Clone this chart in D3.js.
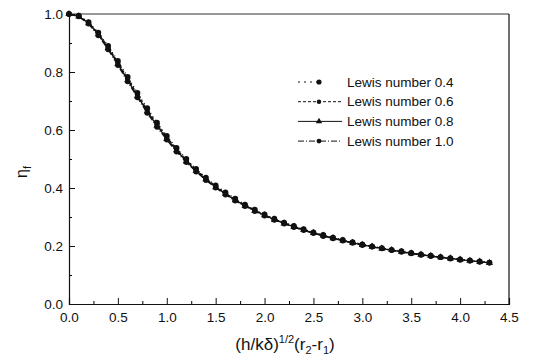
<!DOCTYPE html>
<html>
<head>
<meta charset="utf-8">
<script src="https://cdn.jsdelivr.net/npm/d3@7"></script>
<style>
  body { margin: 0; background: #fff; }
  text { font-family: "Liberation Sans", Arial, sans-serif; fill: #111; }
</style>
</head>
<body>
<div id="chart"></div>
<script>
// Data
var xValues = [0.0, 0.1, 0.2, 0.3, 0.4, 0.5, 0.6, 0.7, 0.8, 0.9, 1.0, 1.1, 1.2, 1.3, 1.4,
  1.5, 1.6, 1.7, 1.8, 1.9, 2.0, 2.1, 2.2, 2.3, 2.4, 2.5, 2.6, 2.7, 2.8, 2.9, 3.0,
  3.1, 3.2, 3.3, 3.4, 3.5, 3.6, 3.7, 3.8, 3.9, 4.0, 4.1, 4.2, 4.3];

var lewis04 = [1.000, 0.994, 0.972, 0.936, 0.890, 0.838, 0.783, 0.728, 0.675, 0.625,
  0.580, 0.538, 0.500, 0.466, 0.436, 0.409, 0.385, 0.363, 0.343, 0.325, 0.309,
  0.294, 0.281, 0.269, 0.258, 0.247, 0.238, 0.229, 0.221, 0.213, 0.206, 0.199,
  0.193, 0.187, 0.182, 0.176, 0.171, 0.167, 0.162, 0.158, 0.154, 0.150, 0.147, 0.143];

var lewis06 = [1.000, 0.993, 0.970, 0.933, 0.886, 0.833, 0.777, 0.722, 0.669, 0.620,
  0.575, 0.534, 0.496, 0.463, 0.433, 0.406, 0.382, 0.361, 0.341, 0.323, 0.307,
  0.293, 0.280, 0.268, 0.257, 0.246, 0.237, 0.228, 0.220, 0.212, 0.205, 0.199,
  0.192, 0.186, 0.181, 0.176, 0.171, 0.166, 0.162, 0.158, 0.154, 0.150, 0.146, 0.143];

var lewis08 = [1.000, 0.992, 0.968, 0.930, 0.882, 0.828, 0.772, 0.717, 0.664, 0.615,
  0.570, 0.530, 0.492, 0.459, 0.430, 0.403, 0.380, 0.358, 0.339, 0.322, 0.306,
  0.291, 0.278, 0.266, 0.255, 0.245, 0.236, 0.227, 0.219, 0.211, 0.204, 0.198,
  0.191, 0.186, 0.180, 0.175, 0.170, 0.166, 0.161, 0.157, 0.153, 0.149, 0.146, 0.142];

var lewis10 = [1.000, 0.991, 0.966, 0.926, 0.878, 0.823, 0.767, 0.712, 0.659, 0.610,
  0.566, 0.525, 0.489, 0.456, 0.427, 0.401, 0.377, 0.356, 0.337, 0.320, 0.304,
  0.290, 0.277, 0.265, 0.254, 0.244, 0.234, 0.226, 0.218, 0.210, 0.203, 0.197,
  0.191, 0.185, 0.179, 0.174, 0.169, 0.165, 0.161, 0.156, 0.152, 0.149, 0.145, 0.142];

var seriesNames = ["Lewis number 0.4", "Lewis number 0.6", "Lewis number 0.8", "Lewis number 1.0"];
var xTicks = [0.0, 0.5, 1.0, 1.5, 2.0, 2.5, 3.0, 3.5, 4.0, 4.5];
var yTicks = [0.0, 0.2, 0.4, 0.6, 0.8, 1.0];

// SVG Dimensions
var svgWidth = 534;
var svgHeight = 361;
var margin = { top: 14, right: 25, bottom: 57, left: 69 };
var width = svgWidth - margin.left - margin.right;
var height = svgHeight - margin.top - margin.bottom;

var svg = d3.select("#chart")
  .append("svg")
  .attr("width", svgWidth)
  .attr("height", svgHeight);

var chartGroup = svg.append("g")
  .attr("transform", `translate(${margin.left}, ${margin.top})`);

var xScale = d3.scaleLinear().domain([0, 4.5]).range([0, width]);
var yScale = d3.scaleLinear().domain([0, 1.0]).range([height, 0]);

// Axes with inward ticks
var bottomAxis = d3.axisBottom(xScale)
  .tickValues(xTicks)
  .tickFormat(d3.format(".1f"))
  .tickSize(-6)
  .tickPadding(8);
var leftAxis = d3.axisLeft(yScale)
  .tickValues(yTicks)
  .tickFormat(d3.format(".1f"))
  .tickSize(-6)
  .tickPadding(13);

// minor ticks
var xMinor = d3.axisBottom(xScale).tickValues(d3.range(0.25, 4.5, 0.5)).tickSize(-3).tickFormat("");
var yMinor = d3.axisLeft(yScale).tickValues(d3.range(0.1, 1.0, 0.2)).tickSize(-3).tickFormat("");

chartGroup.append("g")
  .attr("transform", `translate(0,${height})`)
  .call(xMinor)
  .call(g => g.select(".domain").remove());
chartGroup.append("g")
  .call(yMinor)
  .call(g => g.select(".domain").remove());

var xAxisG = chartGroup.append("g")
  .attr("transform", `translate(0,${height})`)
  .call(bottomAxis);
var yAxisG = chartGroup.append("g")
  .call(leftAxis);

[xAxisG, yAxisG].forEach(function (g) {
  g.selectAll("text").attr("font-size", "13.5px").attr("font-family", "Liberation Sans, Arial, sans-serif").style("fill", "#111");
  g.selectAll("line").attr("stroke", "#111");
  g.select(".domain").attr("stroke", "#111").attr("stroke-width", 1.2);
});
yAxisG.selectAll("text").attr("dx", "7px");

// top and right frame
chartGroup.append("line")
  .attr("x1", 0).attr("x2", width).attr("y1", 0).attr("y2", 0)
  .attr("stroke", "#333").attr("stroke-width", 1);
chartGroup.append("line")
  .attr("x1", width).attr("x2", width).attr("y1", 0).attr("y2", height)
  .attr("stroke", "#111").attr("stroke-width", 1.2);

// Series
var series = [
  { name: seriesNames[0], values: lewis04, dash: "1,3", marker: "circle", size: 26 },
  { name: seriesNames[1], values: lewis06, dash: "3,2", marker: "circle", size: 20 },
  { name: seriesNames[2], values: lewis08, dash: null, marker: "triangle", size: 22 },
  { name: seriesNames[3], values: lewis10, dash: "6,2,1,2", marker: "circle", size: 24 }
];

var line = d3.line()
  .x((d, i) => xScale(xValues[i]))
  .y(d => yScale(d));

function symbolType(name) {
  return name === "triangle" ? d3.symbolTriangle : d3.symbolCircle;
}

series.forEach(function (s) {
  chartGroup.append("path")
    .datum(s.values)
    .attr("d", line)
    .attr("fill", "none")
    .attr("stroke", "#111")
    .attr("stroke-width", 1.3)
    .attr("stroke-dasharray", s.dash);

  chartGroup.append("g").selectAll("path")
    .data(s.values)
    .enter()
    .append("path")
    .attr("transform", (d, i) => `translate(${xScale(xValues[i])},${yScale(d)})`)
    .attr("d", d3.symbol().type(symbolType(s.marker)).size(s.size))
    .attr("fill", "#111");
});

// Legend
var legend = chartGroup.append("g")
  .attr("transform", "translate(229, 68)");

series.forEach(function (s, i) {
  var row = legend.append("g").attr("transform", `translate(0, ${i * 19.7})`);
  row.append("line")
    .attr("x1", 0).attr("x2", i === 0 ? 24 : 44)
    .attr("y1", 0).attr("y2", 0)
    .attr("stroke", "#111")
    .attr("stroke-width", 1)
    .attr("stroke-dasharray", i === 0 ? "2,4" : s.dash);
  row.append("path")
    .attr("transform", "translate(21,0)")
    .attr("d", d3.symbol().type(symbolType(s.marker)).size(s.size * 0.8))
    .attr("fill", "#111");
  row.append("text")
    .attr("x", 49)
    .attr("y", 0)
    .attr("dy", "0.35em")
    .attr("font-size", "13.5px")
    .text(s.name);
});

// Axis labels
var xLabel = svg.append("text")
  .attr("x", margin.left + width / 2 - 4)
  .attr("y", 350)
  .attr("text-anchor", "middle")
  .attr("font-size", "17px");
xLabel.append("tspan").text("(h/k\u03B4)");
xLabel.append("tspan").attr("dy", -7).attr("font-size", "11px").text("1/2");
xLabel.append("tspan").attr("dy", 7).text("(r");
xLabel.append("tspan").attr("dy", 4).attr("font-size", "11px").text("2");
xLabel.append("tspan").attr("dy", -4).text("-r");
xLabel.append("tspan").attr("dy", 4).attr("font-size", "11px").text("1");
xLabel.append("tspan").attr("dy", -4).text(")");

var yLabel = svg.append("text")
  .attr("transform", "translate(27, 172) rotate(-90)")
  .attr("text-anchor", "middle")
  .attr("font-size", "16px");
yLabel.append("tspan").text("\u03B7");
yLabel.append("tspan").attr("dy", 4).attr("font-size", "11px").text("f");
</script>
</body>
</html>
